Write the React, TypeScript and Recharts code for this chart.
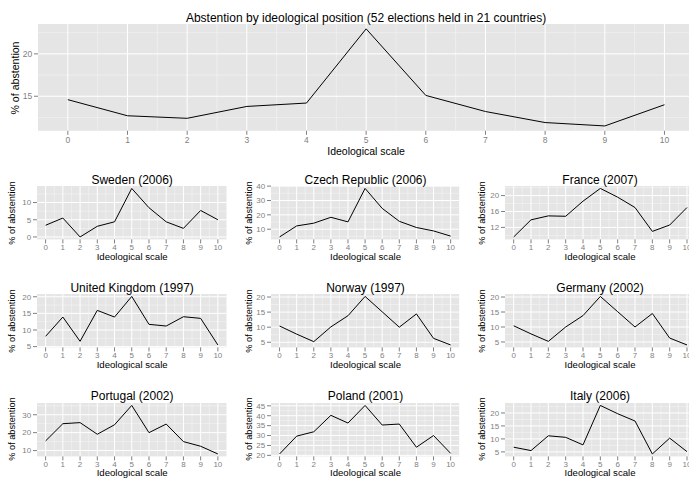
import { LineChart, Line, XAxis, YAxis, CartesianGrid } from 'recharts';

// Ideological scale positions (x axis of every panel)
const scale = [0, 1, 2, 3, 4, 5, 6, 7, 8, 9, 10];

// % of abstention by position
const overall = [14.6, 12.7, 12.4, 13.8, 14.2, 22.95, 15.1, 13.2, 11.9, 11.5, 14.0];
const sweden = [3.4, 5.5, 0, 3.1, 4.4, 14.1, 8.5, 4.4, 2.5, 7.7, 5.0];
const czech = [4.6, 12.3, 14.2, 18.3, 15.1, 38.4, 24.5, 15.5, 11.2, 8.8, 5.2];
const france = [9.6, 13.9, 14.9, 14.8, 18.6, 21.8, 19.6, 17.0, 11.0, 12.6, 17.0];
const uk = [8.1, 13.9, 6.6, 15.9, 13.9, 20.1, 11.7, 11.2, 14.0, 13.5, 5.5];
const norway = [10.4, 7.7, 5.2, 10.1, 13.8, 20.2, 15.1, 10.0, 14.4, 6.3, 4.1];
const germany = [10.4, 7.7, 5.2, 10.0, 13.8, 20.2, 15.1, 10.0, 14.5, 6.3, 4.0];
const portugal = [15.4, 25.0, 25.6, 19.1, 24.4, 35.2, 20.0, 24.8, 15.0, 12.4, 8.1];
const poland = [20.7, 29.7, 31.9, 40.2, 36.3, 45.2, 35.3, 35.8, 24.1, 30.0, 21.0];
const italy = [6.8, 5.5, 11.2, 10.6, 7.7, 22.9, 19.7, 16.9, 4.2, 10.3, 5.1];

// y tick labels per panel
const overallTicks = [15, 20];
const swedenTicks = [0, 5, 10];
const czechTicks = [10, 20, 30, 40];
const franceTicks = [12, 16, 20];
const ukTicks = [5, 10, 15, 20];
const norwayTicks = [5, 10, 15, 20];
const germanyTicks = [5, 10, 15, 20];
const portugalTicks = [10, 20, 30];
const polandTicks = [20, 25, 30, 35, 40, 45];
const italyTicks = [5, 10, 15, 20];

const FONT = "'Liberation Sans', Arial, Helvetica, sans-serif";
const GREY = '#7F7F7F';

// layout of the small multiples
const colLeft = [37.4, 271.4, 504.7];
const colWidth = [189.5, 188.2, 190.7];
const colYTitle = [13.3, 250, 482.7];
const rowTop = [186.2, 294.4, 402.6];
const rowHeight = 53.4;

const small = [
  { title: 'Sweden (2006)', values: sweden, ticks: swedenTicks },
  { title: 'Czech Republic (2006)', values: czech, ticks: czechTicks },
  { title: 'France (2007)', values: france, ticks: franceTicks },
  { title: 'United Kingdom (1997)', values: uk, ticks: ukTicks },
  { title: 'Norway (1997)', values: norway, ticks: norwayTicks },
  { title: 'Germany (2002)', values: germany, ticks: germanyTicks },
  { title: 'Portugal (2002)', values: portugal, ticks: portugalTicks },
  { title: 'Poland (2001)', values: poland, ticks: polandTicks },
  { title: 'Italy (2006)', values: italy, ticks: italyTicks },
];

interface PanelProps {
  title: string;
  values: number[];
  ticks: number[];
  left: number;
  top: number;
  width: number;
  height: number;
  yTitleX: number;
  big?: boolean;
}

function minorsOf(ticks: number[], lo: number, hi: number) {
  const out: number[] = [];
  const step = ticks[1] - ticks[0];
  const cand = [ticks[0] - step / 2, ...ticks.map((t) => t + step / 2)];
  cand.forEach((c) => {
    if (c > lo && c < hi) out.push(c);
  });
  return out;
}

function Panel({ title, values, ticks, left, top, width, height, yTitleX, big }: PanelProps) {
  const W = 40;
  const H = 24;
  const M = 6; // room above the plot so top tick labels are not clipped
  const rows = scale.map((x, i) => ({ x, v: values[i] }));
  const mn = Math.min(...values);
  const mx = Math.max(...values);
  const pad = (mx - mn) * 0.05;
  const lo = mn - pad;
  const hi = mx + pad;
  const minorY = minorsOf(ticks, lo, hi);
  const minorX = scale.slice(0, -1).map((s) => s + 0.5);
  const cx = left + width / 2;

  return (
    <>
      <div style={{ position: 'absolute', left: left - W, top: top - M }}>
        <LineChart width={width + W} height={height + H + M} data={rows} margin={{ top: M, right: 0, bottom: 0, left: 0 }}>
          <CartesianGrid fill="#E5E5E5" stroke="#F2F2F2" strokeWidth={0.7} horizontalValues={minorY} verticalValues={minorX} />
          <CartesianGrid stroke="#FFFFFF" strokeWidth={1} horizontalValues={ticks} verticalValues={scale} />
          <XAxis
            type="number"
            dataKey="x"
            domain={[-0.5, 10.5]}
            ticks={scale}
            interval={0}
            height={H}
            axisLine={false}
            tickLine={{ stroke: GREY }}
            tickSize={4}
            tickMargin={big ? 2.5 : 1}
            tick={{ fontSize: big ? 8.5 : 8, fill: GREY }}
          />
          <YAxis
            type="number"
            domain={[lo, hi]}
            allowDataOverflow
            ticks={ticks}
            interval={0}
            width={W}
            axisLine={false}
            tickLine={{ stroke: GREY }}
            tickSize={4}
            tickMargin={1.8}
            tick={{ fontSize: big ? 8.5 : 8, fill: GREY }}
          />
          <Line type="linear" dataKey="v" stroke="#000000" strokeWidth={1} dot={false} isAnimationActive={false} />
        </LineChart>
      </div>
      <div style={{ position: 'absolute', left: cx, top: top - 6.2, transform: 'translate(-50%,-50%)', fontSize: 12, lineHeight: 1, whiteSpace: 'nowrap', color: '#000' }}>
        {title}
      </div>
      <div style={{ position: 'absolute', left: cx, top: top + height + (big ? 19.5 : 17.3), transform: 'translate(-50%,-50%)', fontSize: big ? 10.5 : 9.6, lineHeight: 1, whiteSpace: 'nowrap', color: '#000' }}>
        Ideological scale
      </div>
      <div style={{ position: 'absolute', left: yTitleX, top: top + height / 2, transform: 'translate(-50%,-50%) rotate(-90deg)', fontSize: big ? 10.6 : 9.2, lineHeight: 1, whiteSpace: 'nowrap', color: '#000' }}>
        % of abstention
      </div>
    </>
  );
}

export default function App() {
  return (
    <div style={{ position: 'absolute', left: 0, top: 0, width: 689, height: 478, overflow: 'hidden', background: '#FFFFFF', fontFamily: FONT }}>
      <Panel
        title="Abstention by ideological position (52 elections held in 21 countries)"
        values={overall}
        ticks={overallTicks}
        left={37.9}
        top={24.4}
        width={656.3}
        height={106.8}
        yTitleX={14.5}
        big
      />
      {small.map((p, i) => (
        <Panel
          key={p.title}
          title={p.title}
          values={p.values}
          ticks={p.ticks}
          left={colLeft[i % 3]}
          top={rowTop[Math.floor(i / 3)]}
          width={colWidth[i % 3]}
          height={rowHeight}
          yTitleX={colYTitle[i % 3]}
        />
      ))}
    </div>
  );
}
